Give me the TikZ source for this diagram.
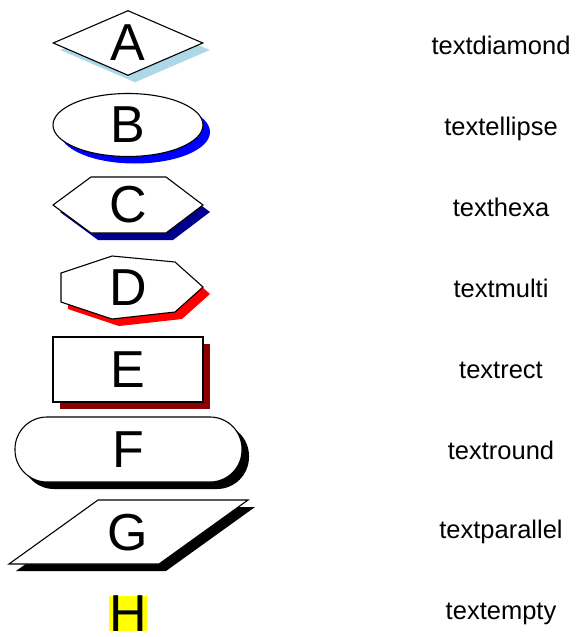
\documentclass[tikz,border=0pt]{standalone}
\usepackage{fontspec}
\setmainfont{Liberation Sans}
\usetikzlibrary{shapes.geometric, shadows}

\definecolor{diamondshade}{RGB}{173,216,230}
\definecolor{ellipseshade}{RGB}{0,0,255}
\definecolor{hexashade}{RGB}{0,0,140}
\definecolor{multishade}{RGB}{255,0,0}
\definecolor{rectshade}{RGB}{139,0,0}
\definecolor{markyellow}{RGB}{255,255,0}

\begin{document}
\begin{tikzpicture}[
  x = 1pt, y = -1pt,
  letter/.style = {font=\fontsize{52}{60}\selectfont, inner sep=0pt},
  outline/.style = {draw, line width=1.1pt, fill=white, line join=miter},
  castshadow/.style = {drop shadow={shadow xshift=7pt, shadow yshift=-7pt,
                       fill=#1, opacity=1}},
  label text/.style = {font=\fontsize{25.5}{30}\selectfont, inner sep=0pt, anchor=base},
]
\useasboundingbox (0,0) rectangle (576,637);

\node[letter, outline, castshadow=diamondshade, diamond, aspect=2.3,
      minimum width=150pt, minimum height=65pt] (A) at (128,43) {A};
\node[letter, outline, castshadow=ellipseshade, ellipse,
      minimum width=150pt, minimum height=63pt] (B) at (128,125) {B};

% hexagon and seven-sided outline drawn as paths round their letters
\draw[outline, castshadow=hexashade, shift={(128,205)}]
  (-75,0) -- (-37,-28) -- (38,-28) -- (75,0) -- (38,28) -- (-37,28) -- cycle;
\node[letter] (C) at (128,205) {C};

\draw[outline, castshadow=multishade, shift={(128,287)}]
  (-67,-14) -- (-16,-31) -- (47,-25) -- (75,0) -- (47,25) -- (-16,32)
  -- (-67,15) -- cycle;
\node[letter] (D) at (128,287.5) {D};

\node[letter, outline, castshadow=rectshade, rectangle,
      minimum width=150pt, minimum height=65pt] (E) at (128,369.5) {E};
\node[letter, outline, castshadow=black, rectangle, rounded corners=32pt,
      minimum width=227pt, minimum height=65pt] (F) at (128.5,449.5) {F};

\draw[outline, castshadow=black, shift={(128.5,532)}]
  (-30.5,-32) -- (119.5,-32) -- (30.5,32) -- (-119.5,32) -- cycle;
\node[letter] (G) at (128,533) {G};

\node[letter, fill=markyellow] (H) at (128,613.5) {H};

\foreach \name/\y/\txt in {A/54/textdiamond, B/135/textellipse,
    C/216/texthexa, D/297/textmulti, E/378/textrect, F/459/textround,
    G/538/textparallel, H/619/textempty}
  \node[label text] (lbl\name) at (501,\y) {\txt};

\end{tikzpicture}
\end{document}
